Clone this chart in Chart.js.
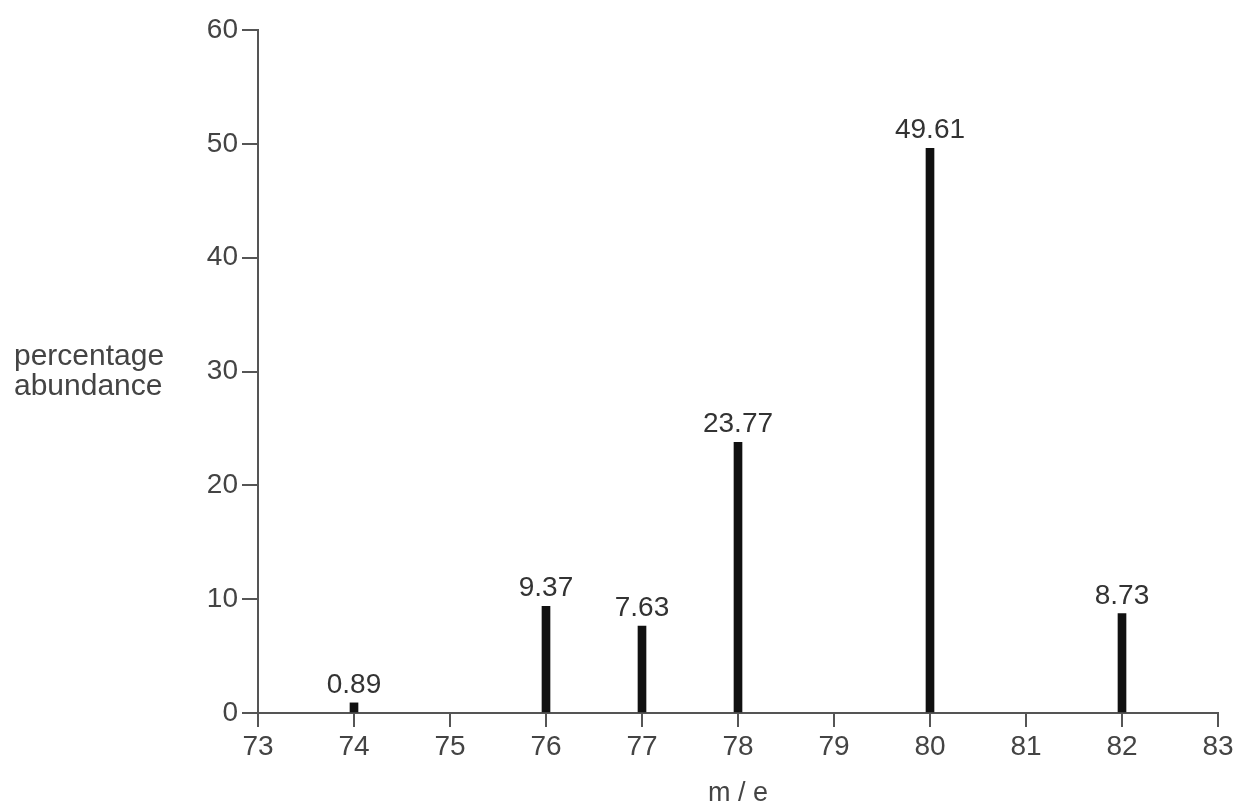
<!DOCTYPE html>
<html>
<head>
<meta charset="utf-8">
<script src="https://cdn.jsdelivr.net/npm/chart.js@4/dist/chart.umd.min.js"></script>
<style>
  html, body { margin: 0; padding: 0; background: #fff; }
  #wrap { width: 1241px; height: 810px; position: relative; }
</style>
</head>
<body>
<div id="wrap"><canvas id="c"></canvas></div>
<script>
// m/e tick categories
const massLabels = ["73", "74", "75", "76", "77", "78", "79", "80", "81", "82", "83"];
// percentage abundance (null where no peak)
const abundance = [null, 0.89, null, 9.37, 7.63, 23.77, null, 49.61, null, 8.73, null];
const yTicks = [0, 10, 20, 30, 40, 50, 60];
const yTitleLines = ["percentage", "abundance"];
const xTitle = "m / e";

const FONT = "'Liberation Sans', Arial, sans-serif";
const FS = 28;
const TEXT = "#444";
const AXIS = "#555";

const labelPlugin = {
  id: "peakLabels",
  afterDatasetsDraw(chart) {
    const ctx = chart.ctx;
    const meta = chart.getDatasetMeta(0);
    ctx.save();
    ctx.font = FS + "px " + FONT;
    ctx.fillStyle = "#333";
    ctx.textAlign = "center";
    ctx.textBaseline = "alphabetic";
    meta.data.forEach((bar, i) => {
      const v = abundance[i];
      if (v === null) return;
      ctx.fillText(v.toFixed(2), bar.x, bar.y - 10);
    });
    ctx.restore();
  }
};

const yTitlePlugin = {
  id: "yTitle",
  afterDraw(chart) {
    const ctx = chart.ctx;
    ctx.save();
    ctx.font = "30px " + FONT;
    ctx.fillStyle = TEXT;
    ctx.textAlign = "left";
    ctx.textBaseline = "alphabetic";
    ctx.fillText(yTitleLines[0], 14, 365);
    ctx.fillText(yTitleLines[1], 14, 395);
    ctx.restore();
  }
};

new Chart(document.getElementById("c"), {
  type: "bar",
  data: {
    labels: massLabels,
    datasets: [{
      data: abundance,
      backgroundColor: "#111",
      borderWidth: 0,
      barThickness: 8
    }]
  },
  options: {
    responsive: true,
    maintainAspectRatio: false,
    animation: false,
    layout: { padding: { left: 0, right: 23, top: 30, bottom: 0 } },
    plugins: { legend: { display: false }, tooltip: { enabled: false } },
    scales: {
      x: {
        offset: false,
        grid: { display: true, drawOnChartArea: false, drawTicks: true, tickLength: 14, color: AXIS, lineWidth: 2, offset: false },
        border: { display: true, color: AXIS, width: 2 },
        ticks: { color: TEXT, font: { family: FONT, size: FS }, padding: 3, maxRotation: 0, autoSkip: false },
        title: { display: true, text: xTitle, color: TEXT, font: { family: FONT, size: 27 }, padding: { top: 4, bottom: 0 } },
        afterFit(scale) { scale.height = 97; }
      },
      y: {
        min: 0, max: 60,
        afterBuildTicks(scale) { scale.ticks = yTicks.map(v => ({ value: v })); },
        grid: { display: true, drawOnChartArea: false, drawTicks: true, tickLength: 16, color: AXIS, lineWidth: 2 },
        border: { display: true, color: AXIS, width: 2 },
        ticks: { color: TEXT, font: { family: FONT, size: FS }, padding: 4 },
        afterFit(scale) { scale.width = 258; }
      }
    }
  },
  plugins: [labelPlugin, yTitlePlugin]
});
</script>
</body>
</html>
